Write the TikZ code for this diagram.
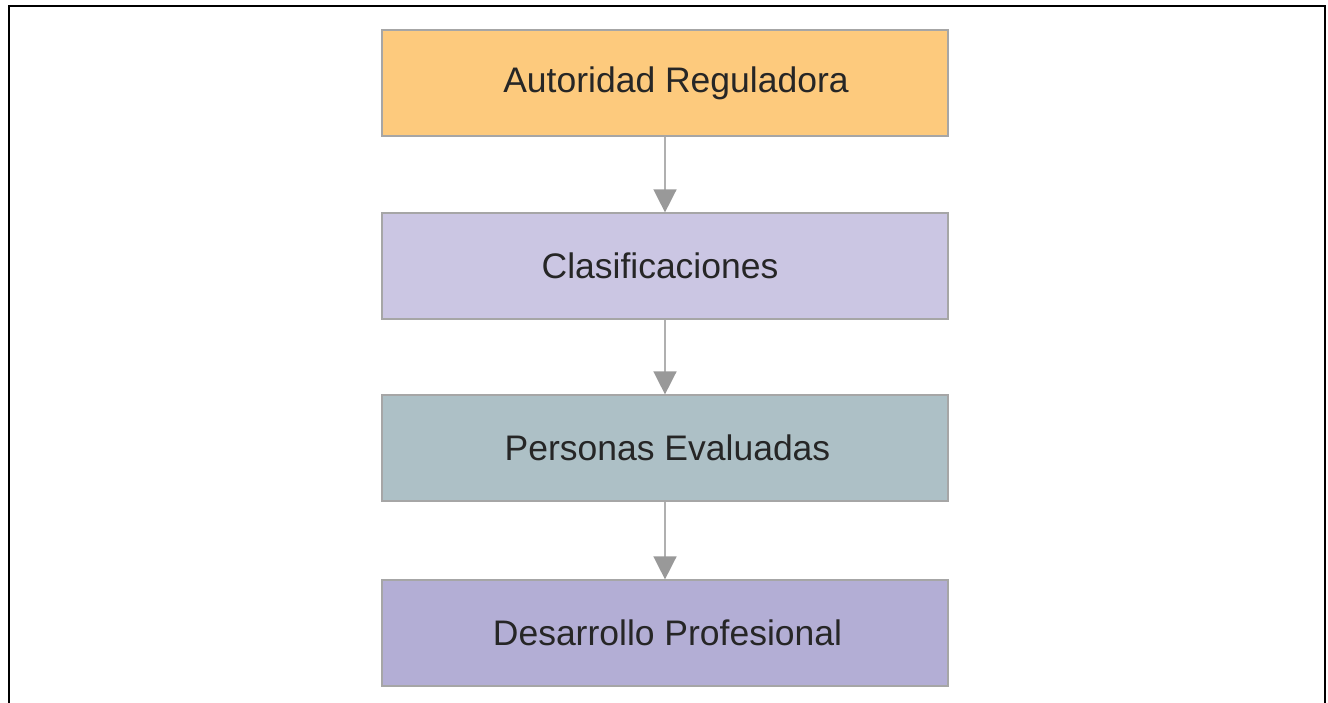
\documentclass[tikz,border=0pt]{standalone}
\usepackage{fontspec}
\setmainfont{Liberation Sans}
\usetikzlibrary{arrows.meta}
\definecolor{cA}{HTML}{FDCA7D}
\definecolor{cB}{HTML}{CBC6E3}
\definecolor{cC}{HTML}{ADC0C6}
\definecolor{cD}{HTML}{B3AED5}
\definecolor{bord}{HTML}{A6A6A6}
\definecolor{lineg}{HTML}{B0B0B0}
\definecolor{tipg}{HTML}{999999}
\definecolor{txt}{HTML}{262626}
\tikzset{
  stagebox/.style={draw=bord, line width=1.2pt, minimum width=566pt, minimum height=106pt,
    inner sep=0pt, text=txt, font=\fontsize{35.5}{40}\selectfont},
  flowarrow/.style={draw=lineg, line width=1.5pt, -{Triangle[width=23pt,length=23pt,fill=tipg,color=tipg]}}
}
\begin{document}
\begin{tikzpicture}[x=1pt,y=-1pt]
\useasboundingbox (0,0) rectangle (1328,703);
\draw[line width=2.6pt] (9,710) -- (9,6) -- (1325,6) -- (1325,710);
\node[stagebox, fill=cA] (a) at (665,83) {\hspace*{22pt}Autoridad Reguladora};
\node[stagebox, fill=cB] (b) at (665,266) {\hspace*{-10pt}Clasificaciones};
\node[stagebox, fill=cC] (c) at (665,448) {\hspace*{5pt}Personas Evaluadas};
\node[stagebox, fill=cD] (d) at (665,633) {\hspace*{5pt}Desarrollo Profesional};
\draw[flowarrow] (a.south) -- (b.north);
\draw[flowarrow] (b.south) -- (c.north);
\draw[flowarrow] (c.south) -- (d.north);
\end{tikzpicture}
\end{document}
